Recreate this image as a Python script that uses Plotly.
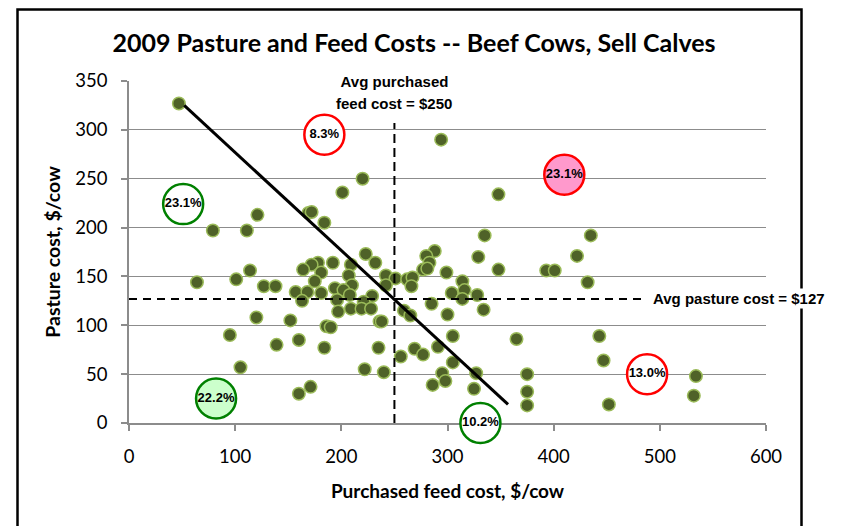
import plotly.graph_objects as go

# ---- data ----
feed_cost = [47, 220, 201, 294, 348, 121, 169, 172, 184, 79, 111, 335, 435, 288, 280, 329, 422,
             223, 232, 192, 178, 172, 209, 283, 164, 114, 181, 207, 242, 277, 281, 299, 348, 393,
             401, 101, 64, 127, 138, 175, 210, 251, 262, 267, 266, 242, 314, 316, 432, 157, 168,
             181, 194, 202, 208, 229, 304, 328, 163, 196, 221, 314, 285, 197, 209, 219, 228, 259,
             334, 265, 300, 120, 152, 236, 238, 186, 190, 95, 305, 365, 443, 160, 139, 184, 235,
             291, 269, 277, 256, 305, 447, 105, 222, 240, 327, 375, 534, 295, 298, 286, 171, 325,
             375, 160, 532, 375, 452]
pasture_cost = [327, 250, 236, 290, 234, 213, 215, 216, 205, 197, 197, 192, 192, 176, 171, 170, 171,
                173, 164, 164, 164, 162, 162, 164, 157, 156, 154, 151, 151, 157, 158, 154, 157, 156,
                156, 147, 144, 140, 140, 145, 141, 148, 147, 149, 140, 141, 145, 136, 144, 134, 134,
                133, 138, 136, 131, 130, 133, 131, 125, 126, 124, 127, 122, 114, 117, 117, 117, 115,
                116, 110, 111, 108, 105, 104, 104, 99, 98, 90, 89, 86, 89, 85, 80, 77, 77,
                78, 76, 70, 68, 62, 64, 57, 55, 52, 51, 50, 48, 51, 43, 39, 37, 35,
                32, 30, 28, 18, 19]

avg_feed = 250
avg_pasture = 127
avg_feed_line_top = 307
avg_pasture_line_end = 483

trend_x = [52, 357]
trend_y = [325, 19]

group_labels = ["8.3%", "23.1%", "23.1%", "22.2%", "10.2%", "13.0%"]
group_x = [184, 51, 410, 82, 331, 488]
group_y = [295, 224, 254, 25, 0, 50]
group_fill = ["white", "white", "#FF99CC", "#CCFFCC", "white", "white"]
group_edge = ["#FF0000", "#008000", "#FF0000", "#008000", "#008000", "#FF0000"]

x_ticks = [0, 100, 200, 300, 400, 500, 600]
y_ticks = [0, 50, 100, 150, 200, 250, 300, 350]

GRID = "#8C8C8C"
ANN_FONT = dict(family="Liberation Sans, Arial", size=15, color="black")

fig = go.Figure()

fig.add_trace(go.Scatter(
    x=feed_cost, y=pasture_cost, mode="markers",
    marker=dict(size=12.5, color="#4F6228", line=dict(color="#9BBB59", width=1.5)),
    showlegend=False, hoverinfo="x+y"))

fig.add_trace(go.Scatter(
    x=trend_x, y=trend_y, mode="lines",
    line=dict(color="black", width=3), showlegend=False))

fig.add_trace(go.Scatter(
    x=[avg_feed, avg_feed], y=[0, avg_feed_line_top], mode="lines",
    line=dict(color="black", width=2, dash="9px,5px"), showlegend=False))

fig.add_trace(go.Scatter(
    x=[0, avg_pasture_line_end], y=[avg_pasture, avg_pasture], mode="lines",
    line=dict(color="black", width=2, dash="8px,6px"), showlegend=False))

fig.add_trace(go.Scatter(
    x=group_x, y=group_y, mode="markers+text", text=group_labels,
    textposition="middle center",
    textfont=dict(family="Liberation Sans, Arial", size=13, color="black", weight="bold"),
    marker=dict(size=40, color=group_fill, line=dict(color=group_edge, width=2.5)),
    cliponaxis=False, showlegend=False))

# outer chart frame
fig.add_shape(type="rect", xref="paper", yref="paper",
              x0=(17.5 - 129) / 637, x1=(801.5 - 129) / 637,
              y0=(423 - 540) / 342, y1=(423 - 9.5) / 342,
              line=dict(color="black", width=2.5), fillcolor="rgba(0,0,0,0)", layer="below")

fig.add_annotation(x=avg_feed, y=349, xref="x", yref="y", text="<b>Avg purchased</b>",
                   showarrow=False, font=ANN_FONT, bgcolor="white", width=145, borderpad=0)
fig.add_annotation(x=avg_feed, y=327, xref="x", yref="y", text="<b>feed cost = $250</b>",
                   showarrow=False, font=ANN_FONT, bgcolor="white", borderpad=0)
fig.add_annotation(x=492, y=avg_pasture, xref="x", yref="y", xanchor="left",
                   text="<b>Avg pasture cost = $127</b>",
                   showarrow=False, font=ANN_FONT, bgcolor="white", borderpad=1)

fig.update_layout(
    width=844, height=526,
    margin=dict(l=129, r=78, t=81, b=103),
    paper_bgcolor="white", plot_bgcolor="white",
    font=dict(family="Lato", color="black"),
    title=dict(text="<b>2009 Pasture and Feed Costs -- Beef Cows, Sell Calves</b>",
               font=dict(family="Lato", size=25, color="black"),
               xref="container", x=414 / 844, xanchor="center",
               yref="container", y=1 - 43 / 526, yanchor="middle"),
    showlegend=False,
)

fig.update_xaxes(
    range=[0, 600], tickvals=x_ticks, showgrid=False, zeroline=False,
    showline=True, linecolor=GRID, linewidth=1.5,
    ticks="outside", ticklen=6, tickcolor=GRID, tickwidth=1.5,
    tickfont=dict(family="Lato", size=18.5, color="black"), ticklabelstandoff=10,
    title=dict(text="<b>Purchased feed cost, $/cow</b>", font=dict(family="Lato", size=19, color="black"),
               standoff=19),
    layer="below traces")

fig.update_yaxes(
    range=[0, 350], tickvals=y_ticks, showgrid=True, gridcolor=GRID, gridwidth=1.2,
    zeroline=False, showline=True, linecolor=GRID, linewidth=1.5,
    ticks="outside", ticklen=6, tickcolor=GRID, tickwidth=1.5,
    tickfont=dict(family="Lato", size=18.5, color="black"), ticklabelstandoff=10,
    title=dict(text="<b>Pasture cost, $/cow</b>", font=dict(family="Lato", size=19.5, color="black"),
               standoff=10),
    layer="below traces")

fig.write_html("out.html")
